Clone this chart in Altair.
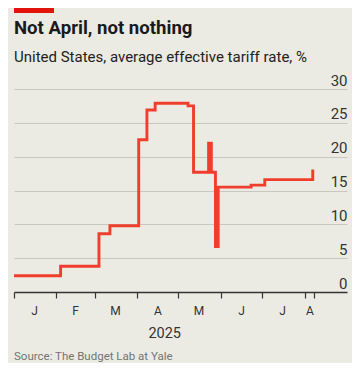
import altair as alt
import pandas as pd

# ---- data ----
dates = ["2025-01-01", "2025-02-04", "2025-03-04", "2025-03-12", "2025-04-02",
         "2025-04-08", "2025-04-14", "2025-05-08", "2025-05-12", "2025-05-23",
         "2025-05-25", "2025-05-28", "2025-05-30", "2025-06-23", "2025-07-03",
         "2025-08-07"]
rates = [2.4, 3.8, 8.6, 9.8, 22.5, 26.9, 27.9, 27.5, 17.7, 22.0, 17.7, 6.7,
         15.5, 15.8, 16.6, 18.1]

month_label_dates = ["2025-01-16", "2025-02-15", "2025-03-16", "2025-04-16",
                     "2025-05-16", "2025-06-16", "2025-07-16", "2025-08-05"]
month_labels = ["J", "F", "M", "A", "M", "J", "J", "A"]
tick_months = [1, 2, 3, 4, 5, 6, 7, 8]
y_ticks = [0, 5, 10, 15, 20, 25, 30]

title_text = "Not April, not nothing"
subtitle_text = "United States, average effective tariff rate, %"
year_text = "2025"
source_text = "Source: The Budget Lab at Yale"

BG = "#ecebe3"
RED = "#ef3e2c"
W, H = 333, 203

df = pd.DataFrame({"date": dates, "rate": rates})
lab = pd.DataFrame({"date": month_label_dates, "label": month_labels})

tick_values = [alt.DateTime(year=2025, month=m, date=1, utc=True) for m in tick_months]
tick_values.append(alt.DateTime(year=2025, month=8, date=8, utc=True))

xscale = alt.Scale(type="utc",
                   domain=[alt.DateTime(year=2025, month=1, date=1, utc=True),
                           alt.DateTime(year=2025, month=9, date=1, utc=True)])

x_enc = alt.X("date:T", scale=xscale,
              axis=alt.Axis(values=tick_values, labels=False, grid=False,
                            ticks=True, tickSize=6, tickColor="#333333",
                            tickWidth=1.2, domainColor="#333333",
                            domainWidth=1.3, title=None))

y_enc = alt.Y("rate:Q", scale=alt.Scale(domain=[0, 30], nice=False),
              axis=alt.Axis(orient="right", values=y_ticks, grid=True,
                            gridColor="#c9c8c0", gridWidth=1, ticks=False,
                            domain=False, labelAlign="right",
                            labelBaseline="alphabetic", labelOffset=-4,
                            labelPadding=0, labelFont="Roboto",
                            labelFontSize=15, labelColor="#333333",
                            title=None))

line = alt.Chart(df).mark_line(color=RED, strokeWidth=2.9,
                               interpolate="step-after").encode(x=x_enc, y=y_enc)

months = alt.Chart(lab).mark_text(font="Roboto", fontSize=12, color="#333333",
                                  baseline="alphabetic", align="center").encode(
    x=alt.X("date:T", scale=xscale), y=alt.value(H + 23), text="label:N")

one = alt.Data(values=[{"a": 1}])

def txt(text, x, y, size, weight="normal", color="#1a1a1a", align="left", font="Roboto"):
    return alt.Chart(one).mark_text(text=text, font=font, fontSize=size,
                                    fontWeight=weight, color=color, align=align,
                                    baseline="alphabetic").encode(
        x=alt.value(x), y=alt.value(y))

title = txt(title_text, 0, -55, 18.6, weight="bold")
subtitle = txt(subtitle_text, 0, -27, 15, color="#222222")
year = txt(year_text, 150.7, H + 46, 14.5, color="#333333", align="center")
source = txt(source_text, 0, H + 68, 11.5, color="#747474")

redbar = alt.Chart(one).mark_rect(color="#e3120b").encode(
    x=alt.value(0), x2=alt.value(40), y=alt.value(-81), y2=alt.value(-76))

chart = alt.layer(line, months, title, subtitle, year, source, redbar).properties(
    width=W, height=H,
    autosize=alt.AutoSizeParams(type="none"),
    padding={"left": 6, "top": 81, "right": 5, "bottom": 71},
    background=BG,
).configure_view(stroke=None)

chart.save("out.html", embed_options={"renderer": "svg", "actions": False})
